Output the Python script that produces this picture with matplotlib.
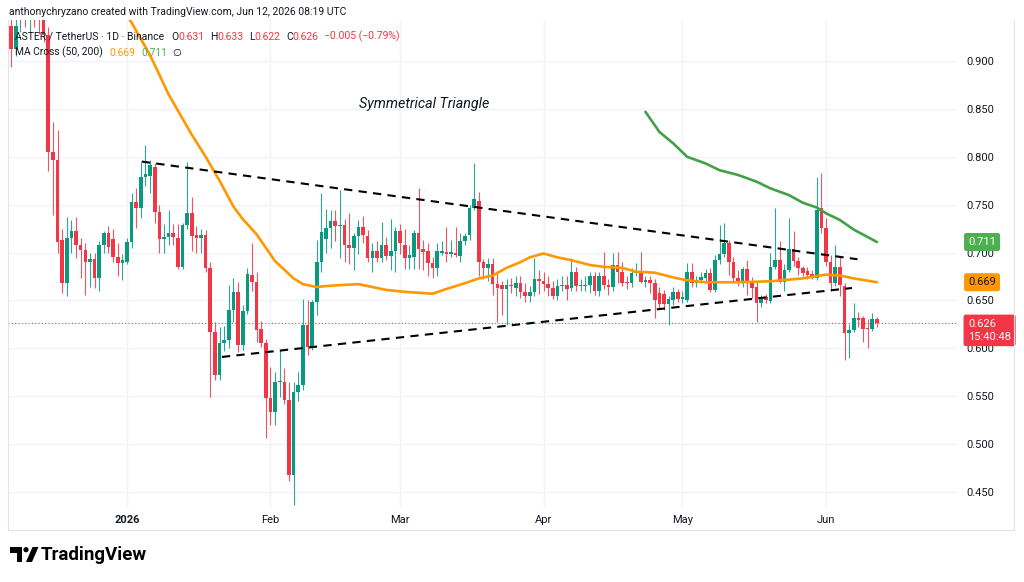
import matplotlib
matplotlib.use("Agg")
import matplotlib.pyplot as plt
import matplotlib.dates as mdates
import matplotlib.patches as mpatches
import numpy as np
import pandas as pd

plt.rcParams['font.family'] = ['Roboto', 'DejaVu Sans']

# ---------------- data ----------------
start_date = "2025-12-07"   # first candle, daily candles up to 2026-06-12

opens = [0.937, 0.913, 0.950, 0.960, 0.955, 0.965, 0.950, 0.945, 0.927, 0.805,
         0.797, 0.713, 0.668, 0.715, 0.722, 0.708, 0.703, 0.690, 0.693, 0.673,
         0.708, 0.720, 0.714, 0.695, 0.689,
         0.690, 0.711, 0.753, 0.747, 0.779, 0.780, 0.789, 0.742, 0.714, 0.716,
         0.720, 0.715, 0.685, 0.729, 0.741, 0.718, 0.715, 0.718, 0.684, 0.617,
         0.572, 0.606, 0.609, 0.640, 0.659, 0.603, 0.639, 0.677, 0.669, 0.620,
         0.606, 0.548, 0.534, 0.565, 0.565, 0.546, 0.468, 0.554, 0.562, 0.624,
         0.601, 0.648, 0.690, 0.714, 0.726, 0.733, 0.728, 0.729, 0.708, 0.705,
         0.717, 0.727, 0.717, 0.694, 0.702, 0.694, 0.708, 0.696, 0.702, 0.722,
         0.708, 0.694, 0.695, 0.720, 0.704, 0.702, 0.689, 0.684, 0.700, 0.701,
         0.699, 0.700, 0.696, 0.712, 0.718, 0.747, 0.754, 0.690, 0.684, 0.688,
         0.667, 0.666, 0.662, 0.666, 0.663, 0.668, 0.659, 0.655, 0.659, 0.672,
         0.670, 0.667, 0.663, 0.655, 0.665, 0.666, 0.663, 0.680, 0.665, 0.665,
         0.666, 0.675, 0.660, 0.675, 0.666, 0.664, 0.687, 0.680, 0.669, 0.668,
         0.679, 0.680, 0.669, 0.671, 0.668, 0.658, 0.657, 0.646, 0.650, 0.659,
         0.651, 0.650, 0.680, 0.668, 0.671, 0.673, 0.679, 0.661, 0.692, 0.698,
         0.710, 0.690, 0.673, 0.670, 0.683, 0.670, 0.664, 0.647, 0.654, 0.649,
         0.685, 0.692, 0.669, 0.682, 0.704, 0.691, 0.684, 0.681, 0.678, 0.673,
         0.747, 0.726, 0.690, 0.668, 0.685, 0.665, 0.616, 0.619, 0.632, 0.632,
         0.621, 0.620, 0.631]

highs = [0.950, 0.950, 0.970, 0.975, 0.970, 0.980, 0.965, 0.960, 0.935, 0.836,
         0.828, 0.725, 0.737, 0.734, 0.737, 0.715, 0.710, 0.700, 0.700, 0.712,
         0.722, 0.728, 0.725, 0.710, 0.698,
         0.715, 0.762, 0.767, 0.795, 0.812, 0.797, 0.793, 0.750, 0.730, 0.744,
         0.730, 0.730, 0.731, 0.795, 0.758, 0.728, 0.725, 0.724, 0.690, 0.627,
         0.622, 0.623, 0.666, 0.673, 0.669, 0.645, 0.684, 0.710, 0.680, 0.629,
         0.610, 0.580, 0.575, 0.598, 0.579, 0.565, 0.565, 0.575, 0.652, 0.650,
         0.650, 0.713, 0.762, 0.745, 0.744, 0.744, 0.765, 0.735, 0.741, 0.720,
         0.734, 0.738, 0.724, 0.710, 0.712, 0.732, 0.716, 0.735, 0.727, 0.730,
         0.725, 0.708, 0.724, 0.767, 0.713, 0.710, 0.695, 0.710, 0.712, 0.727,
         0.713, 0.727, 0.720, 0.720, 0.750, 0.793, 0.763, 0.693, 0.694, 0.694,
         0.681, 0.670, 0.672, 0.673, 0.676, 0.675, 0.668, 0.665, 0.694, 0.682,
         0.680, 0.675, 0.670, 0.672, 0.675, 0.675, 0.694, 0.685, 0.672, 0.675,
         0.680, 0.680, 0.680, 0.701, 0.672, 0.700, 0.701, 0.690, 0.676, 0.684,
         0.689, 0.701, 0.676, 0.675, 0.672, 0.664, 0.661, 0.655, 0.664, 0.662,
         0.660, 0.689, 0.689, 0.676, 0.680, 0.683, 0.684, 0.697, 0.729, 0.731,
         0.713, 0.695, 0.682, 0.685, 0.692, 0.674, 0.669, 0.656, 0.657, 0.700,
         0.747, 0.712, 0.688, 0.736, 0.723, 0.695, 0.686, 0.685, 0.682, 0.779,
         0.783, 0.736, 0.697, 0.708, 0.695, 0.668, 0.625, 0.647, 0.638, 0.634,
         0.631, 0.637, 0.633]

lows = [0.894, 0.905, 0.930, 0.935, 0.930, 0.935, 0.928, 0.920, 0.785, 0.739,
        0.700, 0.658, 0.655, 0.700, 0.694, 0.673, 0.656, 0.664, 0.663, 0.660,
        0.700, 0.700, 0.690, 0.675, 0.671,
        0.688, 0.705, 0.726, 0.736, 0.770, 0.762, 0.731, 0.700, 0.700, 0.708,
        0.708, 0.683, 0.683, 0.725, 0.702, 0.700, 0.700, 0.680, 0.549, 0.567,
        0.567, 0.597, 0.600, 0.628, 0.596, 0.598, 0.636, 0.660, 0.607, 0.601,
        0.506, 0.520, 0.520, 0.549, 0.542, 0.462, 0.436, 0.545, 0.556, 0.593,
        0.598, 0.635, 0.680, 0.700, 0.705, 0.712, 0.694, 0.690, 0.688, 0.682,
        0.698, 0.710, 0.690, 0.680, 0.690, 0.690, 0.692, 0.682, 0.680, 0.698,
        0.683, 0.683, 0.683, 0.683, 0.682, 0.676, 0.673, 0.676, 0.697, 0.690,
        0.695, 0.695, 0.690, 0.708, 0.713, 0.744, 0.675, 0.672, 0.670, 0.656,
        0.627, 0.635, 0.624, 0.658, 0.655, 0.653, 0.648, 0.648, 0.655, 0.657,
        0.660, 0.655, 0.652, 0.650, 0.660, 0.650, 0.660, 0.660, 0.660, 0.660,
        0.658, 0.656, 0.655, 0.662, 0.656, 0.660, 0.668, 0.665, 0.662, 0.664,
        0.676, 0.668, 0.664, 0.658, 0.632, 0.641, 0.640, 0.624, 0.645, 0.648,
        0.647, 0.648, 0.664, 0.664, 0.668, 0.668, 0.659, 0.659, 0.688, 0.695,
        0.677, 0.669, 0.665, 0.664, 0.656, 0.653, 0.627, 0.643, 0.647, 0.647,
        0.683, 0.668, 0.660, 0.680, 0.686, 0.677, 0.675, 0.672, 0.672, 0.671,
        0.720, 0.686, 0.660, 0.665, 0.655, 0.588, 0.590, 0.617, 0.622, 0.607,
        0.600, 0.618, 0.622]

closes = [0.913, 0.937, 0.960, 0.955, 0.965, 0.950, 0.945, 0.927, 0.805, 0.797,
          0.711, 0.668, 0.715, 0.722, 0.708, 0.703, 0.690, 0.693, 0.673, 0.708,
          0.720, 0.706, 0.695, 0.689, 0.692,
          0.711, 0.753, 0.747, 0.779, 0.782, 0.791, 0.742, 0.714, 0.716, 0.720,
          0.716, 0.685, 0.729, 0.741, 0.717, 0.715, 0.718, 0.684, 0.617, 0.572,
          0.606, 0.609, 0.640, 0.659, 0.603, 0.639, 0.678, 0.669, 0.619, 0.606,
          0.548, 0.534, 0.565, 0.566, 0.546, 0.468, 0.554, 0.562, 0.624, 0.601,
          0.648, 0.690, 0.721, 0.726, 0.733, 0.728, 0.729, 0.708, 0.705, 0.717,
          0.727, 0.718, 0.694, 0.702, 0.694, 0.708, 0.696, 0.702, 0.722, 0.710,
          0.694, 0.697, 0.720, 0.704, 0.701, 0.689, 0.684, 0.702, 0.702, 0.698,
          0.701, 0.697, 0.712, 0.717, 0.747, 0.756, 0.690, 0.684, 0.688, 0.667,
          0.663, 0.662, 0.666, 0.665, 0.668, 0.659, 0.655, 0.659, 0.672, 0.670,
          0.667, 0.663, 0.655, 0.665, 0.666, 0.662, 0.680, 0.665, 0.665, 0.666,
          0.675, 0.660, 0.675, 0.666, 0.664, 0.687, 0.680, 0.668, 0.668, 0.679,
          0.681, 0.669, 0.671, 0.668, 0.650, 0.646, 0.646, 0.652, 0.659, 0.651,
          0.654, 0.680, 0.668, 0.671, 0.674, 0.679, 0.661, 0.692, 0.698, 0.710,
          0.690, 0.673, 0.670, 0.683, 0.670, 0.663, 0.647, 0.654, 0.650, 0.685,
          0.692, 0.669, 0.682, 0.704, 0.691, 0.684, 0.679, 0.677, 0.675, 0.744,
          0.726, 0.690, 0.668, 0.685, 0.666, 0.616, 0.619, 0.632, 0.630, 0.620,
          0.620, 0.631, 0.626]

# moving averages: days after 2026-01-01 and value
ma50_days = [-1, 1, 5, 9, 14, 17, 20, 23, 25, 28, 30, 32, 36, 38, 41, 43, 46, 50,
             53, 56, 60, 66, 69, 73, 76, 79, 82, 85, 87, 90, 93, 96, 100, 103,
             107, 110, 114, 118, 121, 125, 132, 139, 146, 151, 154, 157, 162]
ma50_vals = [0.955, 0.940, 0.906, 0.865, 0.823, 0.800, 0.775, 0.748, 0.735, 0.719,
             0.705, 0.691, 0.673, 0.667, 0.664, 0.665, 0.666, 0.667, 0.664, 0.661,
             0.659, 0.657, 0.662, 0.668, 0.673, 0.676, 0.684, 0.690, 0.695, 0.699,
             0.695, 0.692, 0.687, 0.685, 0.684, 0.680, 0.679, 0.674, 0.671, 0.669,
             0.669, 0.670, 0.673, 0.677, 0.676, 0.673, 0.669]
ma200_days = [112, 115, 118, 121, 125, 128, 132, 136, 139, 143, 146, 149, 151,
              154, 157, 162]
ma200_vals = [0.847, 0.826, 0.814, 0.800, 0.793, 0.786, 0.781, 0.774, 0.767,
              0.760, 0.752, 0.747, 0.741, 0.734, 0.724, 0.711]

# triangle trend lines (days after 2026-01-01, price)
upper_days = [3.2, 157.8]
upper_prices = [0.795, 0.693]
lower_days = [20.5, 156.6]
lower_prices = [0.591, 0.663]

price_ticks = [0.45, 0.50, 0.55, 0.60, 0.65, 0.70, 0.75, 0.80, 0.85, 0.90]
month_ticks = ["2026-01-01", "2026-02-01", "2026-03-01", "2026-04-01",
               "2026-05-01", "2026-06-01"]
month_labels = ["2026", "Feb", "Mar", "Apr", "May", "Jun"]

last_price = 0.626
ma50_last = 0.669
ma200_last = 0.711

# ---------------- styling ----------------
UP = "#089981"
DOWN = "#F23645"
ORANGE = "#FF9800"
GREEN_MA = "#43A047"
TXT = "#131722"
GRID = "#F0F3FA"

W, H = 1024, 582
fig = plt.figure(figsize=(W / 100, H / 100), dpi=100)
fig.patch.set_facecolor("white")

ax_l, ax_r, ax_t, ax_b = 8, 957, 20, 508
ax = fig.add_axes([ax_l / W, 1 - ax_b / H, (ax_r - ax_l) / W, (ax_b - ax_t) / H])

base = mdates.date2num(pd.Timestamp("2026-01-01"))
dates = pd.date_range(start_date, periods=len(closes), freq="D")
x = mdates.date2num(dates)
o = np.array(opens); h = np.array(highs); l = np.array(lows); c = np.array(closes)
assert len(o) == len(h) == len(l) == len(c)
cols = np.where(c >= o, UP, DOWN)

# grid
for p in price_ticks:
    ax.axhline(p, color=GRID, lw=1.0, zorder=0)
for m in month_ticks:
    ax.axvline(mdates.date2num(pd.Timestamp(m)), color=GRID, lw=1.0, zorder=0)

# candles
ax.vlines(x, l, h, colors=cols, linewidth=0.8, alpha=0.85, zorder=3)
ax.bar(x, np.maximum(np.abs(c - o), 0.0011), bottom=np.minimum(o, c), width=0.78,
       color=cols, linewidth=0, zorder=4)

# moving averages
ax.plot(base + np.array(ma50_days), ma50_vals, color=ORANGE, lw=1.9, zorder=5,
        solid_capstyle="round", solid_joinstyle="round")
ax.plot(base + np.array(ma200_days), ma200_vals, color=GREEN_MA, lw=1.9, zorder=5,
        solid_capstyle="round", solid_joinstyle="round")

# triangle
ax.plot(base + np.array(upper_days), upper_prices, color="black", lw=1.5,
        linestyle=(0, (4, 3)), zorder=6)
ax.plot(base + np.array(lower_days), lower_prices, color="black", lw=1.5,
        linestyle=(0, (4, 3)), zorder=6)
ax.text(base + 64.2, 0.855, "Symmetrical Triangle", fontsize=10.3, style="italic",
        color=TXT, ha="center", va="center", zorder=7)

# last price line
ax.axhline(last_price, color=DOWN, lw=0.8, linestyle=(0, (1, 2)), zorder=2)

ax.set_xlim(base - 25.7, base + 179.3)
ax.set_ylim(0.4333, 0.9428)
ax.set_yticks(price_ticks)
ax.set_yticklabels([f"{p:.3f}" for p in price_ticks])
ax.yaxis.tick_right()
ax.set_xticks([mdates.date2num(pd.Timestamp(m)) for m in month_ticks])
ax.set_xticklabels(month_labels)
ax.tick_params(axis="y", length=0, pad=7, labelsize=8, labelcolor=TXT)
ax.tick_params(axis="x", length=0, pad=5, labelsize=8, labelcolor=TXT)
ax.get_xticklabels()[0].set_fontweight("bold")
for s in ax.spines.values():
    s.set_visible(False)

# price badges
def badge(val, text, fc, tc):
    ax.annotate(text, xy=(1.0, val), xycoords=("axes fraction", "data"),
                xytext=(8, 0), textcoords="offset points", ha="left", va="center",
                fontsize=8, color=tc, zorder=10, annotation_clip=False,
                bbox=dict(boxstyle="round,pad=0.3,rounding_size=0.15", fc=fc, ec=fc))

badge(ma200_last, f"{ma200_last:.3f}", "#4CAF50", "white")
badge(ma50_last, f"{ma50_last:.3f}", ORANGE, TXT)
ax.annotate(f"{last_price:.3f}\n15:40:48", xy=(1.0, last_price),
            xycoords=("axes fraction", "data"), xytext=(8, -5),
            textcoords="offset points", ha="left", va="center", fontsize=8,
            color="white", linespacing=1.3, zorder=10, annotation_clip=False,
            bbox=dict(boxstyle="round,pad=0.35,rounding_size=0.15", fc=DOWN, ec=DOWN))

# ---------------- overlay (frame, header, logo) ----------------
ov = fig.add_axes([0, 0, 1, 1], zorder=20)
ov.set_xlim(0, W); ov.set_ylim(H, 0); ov.axis("off"); ov.patch.set_alpha(0)
ov.plot([8, 8, 1014, 1014], [20, 530, 530, 20], color="#E0E3EB", lw=0.8)

ov.text(9, 12, "anthonychryzano created with TradingView.com, Jun 12, 2026 08:19 UTC",
        fontsize=7.5, color=TXT, va="center", ha="left")

def chain(x0, y0, parts, fs):
    t = ov.text(x0, y0, parts[0][0], color=parts[0][1], fontsize=fs,
                va="center", ha="left")
    for s, col, gap in parts[1:]:
        t = ov.annotate(s, xy=(1, 0), xycoords=t, xytext=(gap, 0),
                        textcoords="offset points", color=col, fontsize=fs,
                        va="bottom", ha="left")
    return t

chain(15, 37, [("ASTER / TetherUS · 1D · Binance", TXT),
               ("O", TXT, 5), ("0.631", DOWN, 0), ("H", TXT, 4), ("0.633", DOWN, 0),
               ("L", TXT, 4), ("0.622", DOWN, 0), ("C", TXT, 4), ("0.626", DOWN, 0),
               ("−0.005 (−0.79%)", DOWN, 4)], 7.5)
chain(15, 52, [("MA Cross (50, 200)", TXT), ("0.669", ORANGE, 5),
               ("0.711", "#4CAF50", 4), ("∅", TXT, 4)], 7.4)

# TradingView logo
ov.add_patch(mpatches.Polygon([(10, 547), (22, 547), (22, 562), (16.5, 562),
                               (16.5, 552.5), (10, 552.5)], closed=True, fc="black", ec="none"))
ov.add_patch(mpatches.Circle((26, 549.7), 2.6, fc="black", ec="none"))
ov.add_patch(mpatches.Polygon([(26, 562), (32, 562), (38.5, 547), (32.5, 547)],
                              closed=True, fc="black", ec="none"))
ov.text(41, 555, "TradingView", fontsize=13.5, fontweight="bold", color="black",
        va="center", ha="left")

fig.savefig("out.png", dpi=100)
